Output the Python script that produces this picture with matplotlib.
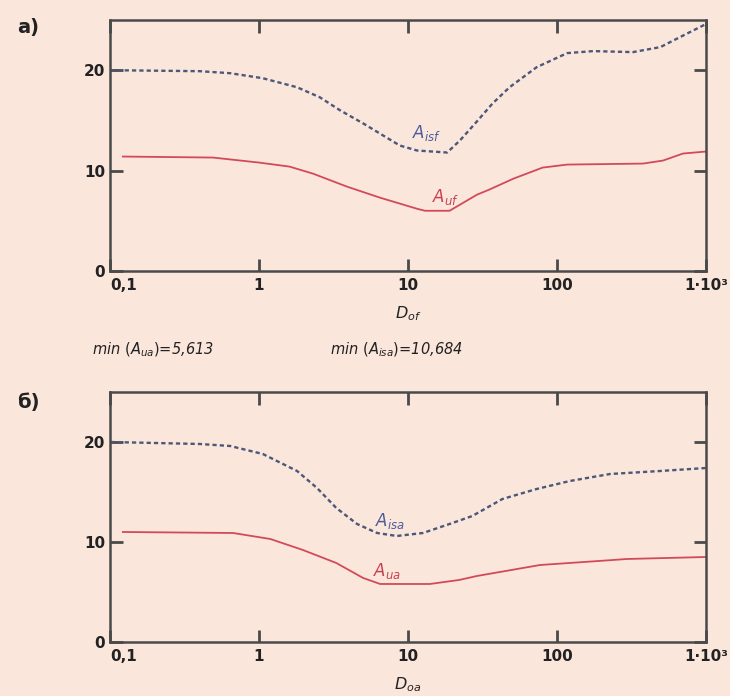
import numpy as np
import matplotlib.pyplot as plt
from matplotlib.ticker import FixedLocator, NullLocator

plt.rcParams['font.family'] = ['Liberation Sans Narrow', 'DejaVu Sans']
plt.rcParams['mathtext.fontset'] = 'custom'
plt.rcParams['mathtext.it'] = 'Liberation Sans Narrow:italic'
plt.rcParams['mathtext.rm'] = 'Liberation Sans Narrow'

# panel a
d_isf = [0.1, 0.4, 0.64, 1.06, 1.8, 2.56, 3.5, 5.0, 6.8, 8.8, 11.5, 18.3, 22.3, 29, 37, 48, 73, 117, 175, 323, 494, 670, 1000]
a_isf = [20.0, 19.9, 19.7, 19.2, 18.3, 17.3, 16.0, 14.7, 13.5, 12.5, 12.0, 11.8, 13.0, 14.9, 16.7, 18.3, 20.3, 21.7, 21.9, 21.8, 22.3, 23.3, 24.6]
d_uf = [0.122, 0.49, 1.0, 1.6, 2.3, 3.9, 6.5, 11.5, 13, 19, 29, 35, 51, 80, 117, 378, 514, 700, 1000]
a_uf = [11.4, 11.3, 10.8, 10.4, 9.7, 8.4, 7.3, 6.2, 6.0, 6.0, 7.6, 8.1, 9.2, 10.3, 10.6, 10.7, 11.0, 11.7, 11.9]

# panel b
d_isa = [0.1, 0.4, 0.64, 1.06, 1.8, 2.45, 3.3, 4.55, 6.2, 8.4, 12.6, 19, 27, 43, 73, 122, 227, 494, 1000]
a_isa = [20.0, 19.8, 19.6, 18.8, 17.1, 15.4, 13.4, 11.8, 10.9, 10.6, 10.9, 11.8, 12.6, 14.3, 15.3, 16.1, 16.8, 17.1, 17.4]
d_ua = [0.122, 0.67, 1.19, 1.97, 3.3, 5.0, 6.5, 14, 22, 29, 77, 190, 295, 1000]
a_ua = [11.0, 10.9, 10.3, 9.2, 7.9, 6.4, 5.8, 5.8, 6.2, 6.6, 7.7, 8.1, 8.3, 8.5]

x_ticks = [0.1, 1, 10, 100, 1000]
x_labels = ["0,1", "1", "10", "100", "1·10³"]
y_ticks = [0, 10, 20]

bg = "#fbe6dc"
blue = "#4b5878"
red = "#d24a58"
spine = "#4a4a4a"
ink = "#222222"

fig = plt.figure(figsize=(7.3, 6.96), dpi=100, facecolor=bg)
ax1 = fig.add_axes([0.1507, 0.6106, 0.8165, 0.3607])
ax2 = fig.add_axes([0.1507, 0.0776, 0.8165, 0.3592])


def style(ax, xlab):
    ax.set_facecolor(bg)
    ax.set_xscale("log")
    ax.set_xlim(0.1, 1000)
    ax.set_ylim(0, 25)
    ax.xaxis.set_major_locator(FixedLocator(x_ticks))
    ax.xaxis.set_minor_locator(NullLocator())
    ax.set_xticklabels(x_labels)
    ax.set_yticks(y_ticks)
    ax.tick_params(direction="in", length=9, width=2, color=spine,
                   labelsize=11, labelcolor=ink, top=True, right=True,
                   labelright=False, labeltop=False)
    ax.tick_params(axis="x", pad=5)
    for lab in ax.get_xticklabels() + ax.get_yticklabels():
        lab.set_fontweight("bold")
    ax.get_xticklabels()[0].set_ha("left")
    for s in ax.spines.values():
        s.set_color(spine)
        s.set_linewidth(1.8)
    ax.set_xlabel(xlab, fontsize=11.5, labelpad=8, color=ink)


style(ax1, r"$D_{of}$")
style(ax2, r"$D_{oa}$")

ax1.plot(d_isf, a_isf, color=blue, lw=1.7, linestyle=(0, (1.8, 1.3)))
ax1.plot(d_uf, a_uf, color=red, lw=1.3)
ax1.text(10.7, 13.2, r"$A_{isf}$", color="#4a5c9a", fontsize=12)
ax1.text(14.5, 6.9, r"$A_{uf}$", color="#c84050", fontsize=12)

ax2.plot(d_isa, a_isa, color=blue, lw=1.7, linestyle=(0, (1.8, 1.3)))
ax2.plot(d_ua, a_ua, color=red, lw=1.3)
ax2.text(6.0, 11.6, r"$A_{isa}$", color="#4a5c9a", fontsize=12)
ax2.text(5.8, 6.6, r"$A_{ua}$", color="#c84050", fontsize=12)

fig.text(0.023, 0.96, "a)", fontsize=14, fontweight="bold", color=ink, va="center")
fig.text(0.023, 0.421, "б)", fontsize=14, fontweight="bold", color=ink, va="center")

fig.text(0.126, 0.498, r"$min\ (A_{ua})$=5,613", fontsize=10.5, style="italic", color=ink, va="center")
fig.text(0.452, 0.498, r"$min\ (A_{isa})$=10,684", fontsize=10.5, style="italic", color=ink, va="center")

fig.savefig("out.png", dpi=100, facecolor=bg)
